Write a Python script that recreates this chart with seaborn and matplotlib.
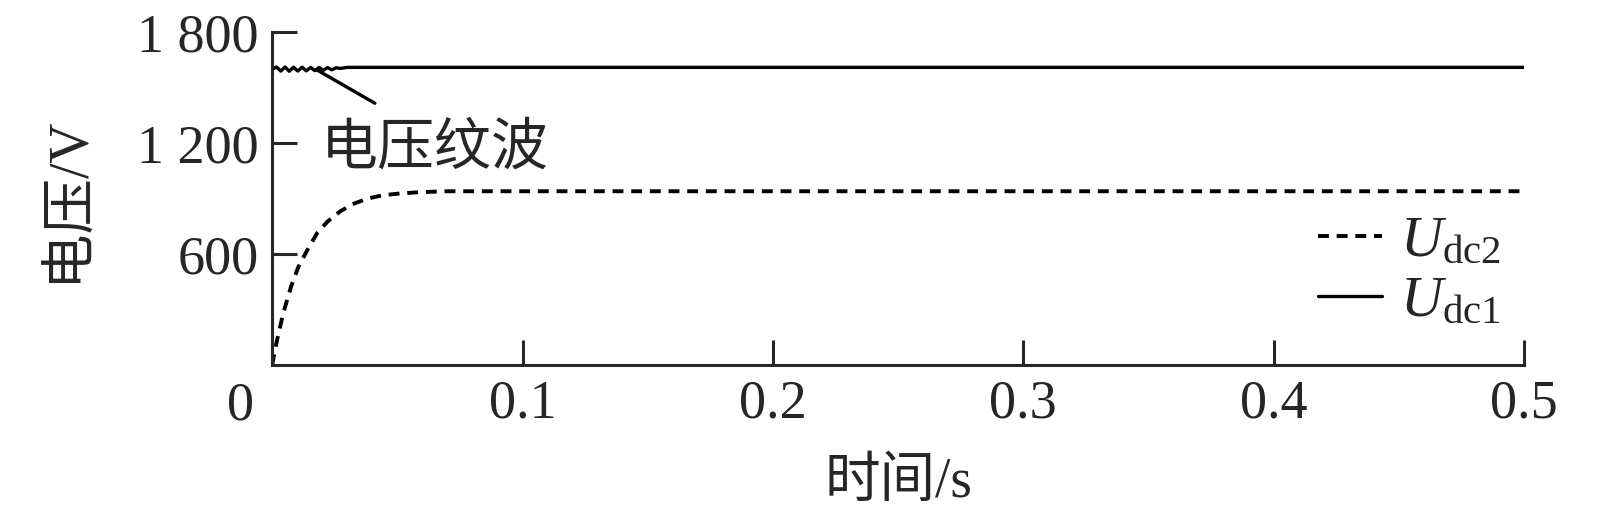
import pandas as pd
import seaborn as sns
import matplotlib.pyplot as plt

# Udc1: DC link voltage with a small ripple at start
t_dc1 = [0, 0.0017, 0.0034, 0.0051, 0.0068, 0.0085, 0.0102, 0.0119, 0.0136,
         0.0153, 0.017, 0.0187, 0.0204, 0.0221, 0.0238, 0.0255, 0.0272, 0.03, 0.5]
u_dc1 = [1600, 1612, 1590, 1612, 1589, 1611, 1590, 1611, 1591, 1610, 1592,
         1610, 1594, 1609, 1597, 1608, 1604, 1610, 1610]

# Udc2: rising to steady state
t_dc2 = [0, 0.0005, 0.002, 0.0044, 0.0075, 0.0104, 0.0144, 0.018, 0.022,
         0.027, 0.032, 0.038, 0.044, 0.051, 0.059, 0.07, 0.5]
u_dc2 = [0, 40, 140, 281, 424, 530, 632, 715, 775, 830, 870, 900, 918, 928,
         935, 940, 940]

yticks = [600, 1200, 1800]
ytick_labels = ["600", "1 200", "1 800"]
xticks = [0, 0.1, 0.2, 0.3, 0.4, 0.5]
xtick_labels = ["", "0.1", "0.2", "0.3", "0.4", "0.5"]

sns.set_style("ticks")
plt.rcParams['font.family'] = ['Liberation Serif', 'Noto Sans CJK SC']
plt.rcParams['mathtext.fontset'] = 'custom'
plt.rcParams['mathtext.rm'] = 'Liberation Serif'
plt.rcParams['mathtext.it'] = 'Liberation Serif:italic'

df1 = pd.DataFrame({"t": t_dc1, "u": u_dc1})
df2 = pd.DataFrame({"t": t_dc2, "u": u_dc2})

fig = plt.figure(figsize=(16.11, 5.2), dpi=100)
ax = fig.add_axes([0.169, 0.298, 0.777, 0.640])

sns.lineplot(data=df2, x="t", y="u", ax=ax, color="black", linewidth=2.8,
             label=r"$U_{\mathrm{dc2}}$")
ax.lines[-1].set_dashes((2.8, 2.0))
sns.lineplot(data=df1, x="t", y="u", ax=ax, color="black", linewidth=2.4,
             label=r"$U_{\mathrm{dc1}}$")

ax.set_xlim(0, 0.5)
ax.set_ylim(0, 1800)
ax.set_xticks(xticks)
ax.set_xticklabels(xtick_labels)
ax.set_yticks(yticks)
ax.set_yticklabels(ytick_labels)
ax.tick_params(direction="in", length=18, width=2.2, labelsize=39, pad=10)
for side in ["top", "right"]:
    ax.spines[side].set_visible(False)
for side in ["left", "bottom"]:
    ax.spines[side].set_linewidth(2.2)

ax.set_xlabel("时间/s", fontsize=40, labelpad=20)
ax.set_ylabel("电压/V", fontsize=40, labelpad=30)
ax.text(-0.025, -0.125, "0", transform=ax.transAxes, fontsize=39,
        ha="center", va="center")

ax.plot([0.018, 0.041], [1595, 1416], color="black", linewidth=2.4)
ax.text(0.0195, 1165, "电压纹波", fontsize=41, ha="left", va="center")

leg = ax.legend(loc="lower right", bbox_to_anchor=(1.0, 0.04), frameon=False,
                fontsize=42, handlelength=1.1, handletextpad=0.3,
                labelspacing=0.12, borderaxespad=0.0)

fig.savefig("out.png", dpi=100)
